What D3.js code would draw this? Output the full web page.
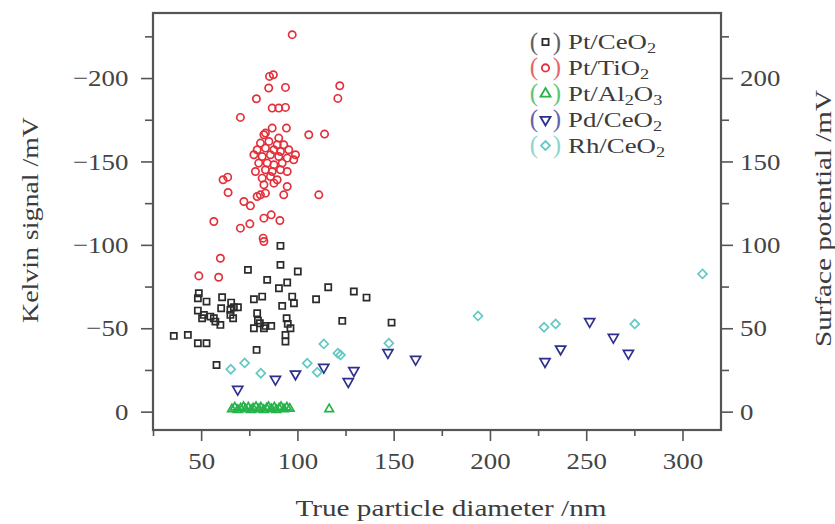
<!DOCTYPE html>
<html>
<head>
<meta charset="utf-8">
<script src="https://cdn.jsdelivr.net/npm/d3@7"></script>
<style>
  html, body { margin: 0; padding: 0; background: #fff; }
  svg { display: block; }
</style>
</head>
<body>
<svg id="chart" width="835" height="524"></svg>
<script>
// Particle diameter (nm) vs. surface potential (mV); Kelvin signal is its negative.
const ptCeO2 = [
  [91.2,99.4],[91.2,88],[100.2,84],[74.3,85],[84.3,79],[90.4,74],[94.7,77.4],[97.3,69],[98.2,65],
  [92.1,63.4],[77.4,67.4],[81.7,69],[60.9,68.6],[65.6,65.4],[67.0,62.6],[69.1,62.6],[48.8,71],
  [48.3,68],[52.8,66],[48.3,60.6],[51.4,58],[54.8,57],[50.5,56],[56.6,56],[60.0,52],[57.4,54],
  [60.4,62],[65.2,61],[66.6,56],[65.2,58],[79.1,59],[79.5,54.6],[77.4,50],[80.5,53],[83.4,51.4],
  [86.4,51.4],[82.6,50],[94.4,56],[95.0,52.6],[96.4,50],[93.8,46],[93.8,42],[78.8,37],[35.8,45.4],
  [43.1,46],[48.3,41],[52.8,41],[58.0,28],[116.0,74.6],[109.7,67.4],[129.3,72],[135.9,68.4],
  [123.3,54.4],[148.9,53.4]
];
const ptTiO2 = [
  [97.3,226],[85.5,201],[87.5,202],[85.1,194],[93.8,194.4],[122.0,195.4],[121.0,187.8],[78.7,187.6],
  [70.4,176.4],[86.9,182],[90.3,182],[93.8,182.4],[86.9,170],[94.3,170],[105.9,166],[114.1,166.4],
  [83.4,167],[82.6,166],[90.3,164],[80.8,161],[85.2,162],[89.5,160],[92.9,160],[79.1,157],[83.4,158],
  [87.8,157],[91.2,156],[95.5,157],[99.0,154],[77.4,154],[81.7,153],[86.0,154],[90.3,153],[94.7,152],
  [98.1,151],[79.9,149],[84.3,149],[87.8,148],[92.1,149],[78.2,144],[83.4,145],[86.9,144],[91.2,145],
  [94.7,144],[81.7,140],[86.0,141],[89.5,139],[82.6,136],[87.8,137],[94.7,135],[61.4,139],[63.8,140.6],
  [64.0,131.4],[72.2,126],[75.6,123.4],[79.1,129],[80.8,130],[83.4,131],[92.9,130],[111.1,130],
  [56.6,114],[70.4,110],[75.3,112.6],[82.6,116],[86.4,118],[90.9,114.6],[82.2,104],[82.6,102],
  [60.0,92],[48.8,81.4],[59.1,80.6]
];
const ptAl2O3 = [
  [66,1.5],[67.5,2.5],[69,1],[70.5,2],[72,2.8],[73,1.5],[74.5,2.5],[76,1],[77,2],[78.5,2.8],[80,1.5],
  [81,2.5],[82.5,1],[84,2],[85,2.8],[86.5,1.5],[88,2.5],[89,1],[90.5,2],[91.5,2.8],[93,1.5],[94.5,2.5],
  [96,1.8],[116.5,1.5]
];
const pdCeO2 = [
  [69.0,13.4],[88.6,19.4],[99.0,22.6],[113.7,26.6],[129.3,24.6],[126.4,18],[147.0,35.4],[161.4,31.4],
  [228.6,30],[236.7,37.6],[251.8,54],[264.1,44.6],[271.9,35]
];
const rhCeO2 = [
  [65.4,25.4],[72.6,29.2],[81.0,23],[105.1,29],[110.3,23.6],[113.7,40.6],[121.0,35],[122.4,34],
  [147.5,41],[193.8,57.4],[228.1,50.6],[234.1,52.6],[275.2,52.6],[310.4,82.6]
];

const seriesNames = ["Pt/CeO_2", "Pt/TiO_2", "Pt/Al_2O_3", "Pd/CeO_2", "Rh/CeO_2"];
const seriesData = [ptCeO2, ptTiO2, ptAl2O3, pdCeO2, rhCeO2];
const seriesColors = ["#2b2b2b", "#e3303b", "#25b34a", "#2f2f8e", "#63c9c2"];

const xTicks = [50, 100, 150, 200, 250, 300];
const xMinorTicks = [25, 75, 125, 175, 225, 275];
const kelvinTicks = [-200, -150, -100, -50, 0];
const kelvinMinorTicks = [-225, -175, -125, -75, -25];
const potentialTicks = [0, 50, 100, 150, 200];
const potentialMinorTicks = [25, 75, 125, 175, 225];

const xTitle = "True particle diameter /nm";
const yLeftTitle = "Kelvin signal /mV";
const yRightTitle = "Surface potential /mV";

// Pick the first installed serif face from a preference list
function pickFont(names) {
  const ctx = document.createElement("canvas").getContext("2d");
  const probe = "abcdefghijklmnopqrstuvwxyz0123456789";
  for (const base of ["monospace", "sans-serif"]) {
    for (const n of names) {
      ctx.font = `20px ${base}`;
      const w0 = ctx.measureText(probe).width;
      ctx.font = `20px "${n}", ${base}`;
      if (Math.abs(ctx.measureText(probe).width - w0) > 0.5) return n;
    }
  }
  return "serif";
}
const fontFamily = pickFont(["Liberation Serif", "Times New Roman", "Tinos", "Nimbus Roman", "Noto Serif", "DejaVu Serif"]);
const wideFont = fontFamily === "DejaVu Serif" || fontFamily === "serif";
const tickSize = wideFont ? 21 : 24;
const tickStretch = wideFont ? 1.0 : 1.12;
const titleSize = wideFont ? 20 : 23;
const legendSize = wideFont ? 20 : 22;
const subSize = wideFont ? 14 : 15;

// Layout
const plot = { left: 153, right: 721, top: 13, bottom: 430 };
const svg = d3.select("#chart").style("font-family", `"${fontFamily}", serif`);

const x = d3.scaleLinear().domain([25, 320]).range([plot.left, plot.right]);
const y = d3.scaleLinear().domain([-11, 239]).range([plot.bottom, plot.top]);
const yKelvin = d3.scaleLinear().domain([11, -239]).range([plot.bottom, plot.top]);

// Marker shapes per series
const symbolGens = [
  { type: d3.symbolSquare, size: 38, rotate: 0 },
  { type: d3.symbolCircle, size: 42, rotate: 0 },
  { type: d3.symbolTriangle, size: 32, rotate: 0 },
  { type: d3.symbolTriangle, size: 44, rotate: 180 },
  { type: d3.symbolSquare, size: 40, rotate: 45 }
];

// Axes with major and minor ticks
const tickStyle = g => {
  g.attr("font-family", null).attr("font-size", null);
  g.select(".domain").remove();
  g.selectAll(".tick line").attr("stroke", "#555").attr("stroke-width", 1.6);
  g.selectAll(".tick text")
    .style("font-size", tickSize + "px").attr("fill", "#444")
    .attr("transform", `scale(${tickStretch},1)`);
};

svg.append("g").attr("transform", `translate(0,${plot.bottom})`)
  .call(d3.axisBottom(x).tickValues(xTicks).tickSize(11).tickPadding(11).tickFormat(d3.format("d")))
  .call(tickStyle);
svg.append("g").attr("transform", `translate(0,${plot.bottom})`)
  .call(d3.axisBottom(x).tickValues(xMinorTicks).tickSize(6).tickFormat(""))
  .call(tickStyle);

svg.append("g").attr("transform", `translate(${plot.left},0)`)
  .call(d3.axisLeft(yKelvin).tickValues(kelvinTicks).tickSize(12).tickPadding(10).tickFormat(d3.format("d")))
  .call(tickStyle);
svg.append("g").attr("transform", `translate(${plot.left},0)`)
  .call(d3.axisLeft(yKelvin).tickValues(kelvinMinorTicks).tickSize(8).tickFormat(""))
  .call(tickStyle);

svg.append("g").attr("transform", `translate(${plot.right},0)`)
  .call(d3.axisRight(y).tickValues(potentialTicks).tickSize(12).tickPadding(5).tickFormat(d3.format("d")))
  .call(tickStyle);
svg.append("g").attr("transform", `translate(${plot.right},0)`)
  .call(d3.axisRight(y).tickValues(potentialMinorTicks).tickSize(8).tickFormat(""))
  .call(tickStyle);

// Plot frame
svg.append("rect")
  .attr("x", plot.left).attr("y", plot.top)
  .attr("width", plot.right - plot.left).attr("height", plot.bottom - plot.top)
  .attr("fill", "none").attr("stroke", "#555").attr("stroke-width", 2.2);

// Data markers
const marks = svg.append("g");
seriesData.forEach((data, i) => {
  const s = symbolGens[i];
  marks.append("g").selectAll("path").data(data).join("path")
    .attr("d", d3.symbol().type(s.type).size(s.size))
    .attr("transform", d => `translate(${x(d[0])},${y(d[1])}) rotate(${s.rotate})`)
    .attr("fill", "none")
    .attr("stroke", seriesColors[i])
    .attr("stroke-width", 1.7);
});

// Axis titles
svg.append("text")
  .attr("x", (plot.left + plot.right) / 2 + 14).attr("y", 516)
  .attr("text-anchor", "middle").attr("fill", "#3c3c3c")
  .attr("textLength", 311).attr("lengthAdjust", "spacingAndGlyphs")
  .style("font-size", titleSize + "px")
  .text(xTitle);

svg.append("text")
  .attr("transform", `translate(38,${(117 + 323) / 2}) rotate(-90)`)
  .attr("text-anchor", "middle").attr("fill", "#3c3c3c")
  .attr("textLength", 206).attr("lengthAdjust", "spacingAndGlyphs")
  .style("font-size", titleSize + "px")
  .text(yLeftTitle);

svg.append("text")
  .attr("transform", `translate(831,${(90 + 347) / 2}) rotate(-90)`)
  .attr("text-anchor", "middle").attr("fill", "#3c3c3c")
  .attr("textLength", 257).attr("lengthAdjust", "spacingAndGlyphs")
  .style("font-size", titleSize + "px")
  .text(yRightTitle);

// Legend
const legend = svg.append("g");
const legendStretch = 1.22;
seriesNames.forEach((name, i) => {
  const baseline = 49 + i * 25.9;
  const cy = baseline - 7;
  const s = symbolGens[i];
  const row = legend.append("g");
  row.append("text").attr("x", 534).attr("y", baseline + 0.5).attr("text-anchor", "middle")
    .style("font-size", (legendSize + 3) + "px").attr("fill", seriesColors[i]).attr("opacity", 0.75).text("(");
  row.append("text").attr("x", 557).attr("y", baseline + 0.5).attr("text-anchor", "middle")
    .style("font-size", (legendSize + 3) + "px").attr("fill", seriesColors[i]).attr("opacity", 0.75).text(")");
  row.append("path")
    .attr("d", d3.symbol().type(s.type).size(i === 2 ? 44 : s.size))
    .attr("transform", `translate(545.5,${cy}) rotate(${s.rotate})`)
    .attr("fill", "none").attr("stroke", seriesColors[i]).attr("stroke-width", 1.8);
  const t = row.append("text")
    .attr("transform", `translate(568,${baseline}) scale(${legendStretch},1)`)
    .attr("fill", "#3c3c3c").style("font-size", legendSize + "px");
  let shift = 0;
  name.split(/(_\d)/).filter(p => p.length).forEach(part => {
    if (part.startsWith("_")) {
      t.append("tspan").attr("dy", 4 - shift).style("font-size", subSize + "px").text(part.slice(1));
      shift = 4;
    } else {
      t.append("tspan").attr("dy", -shift).text(part);
      shift = 0;
    }
  });
});
</script>
</body>
</html>
